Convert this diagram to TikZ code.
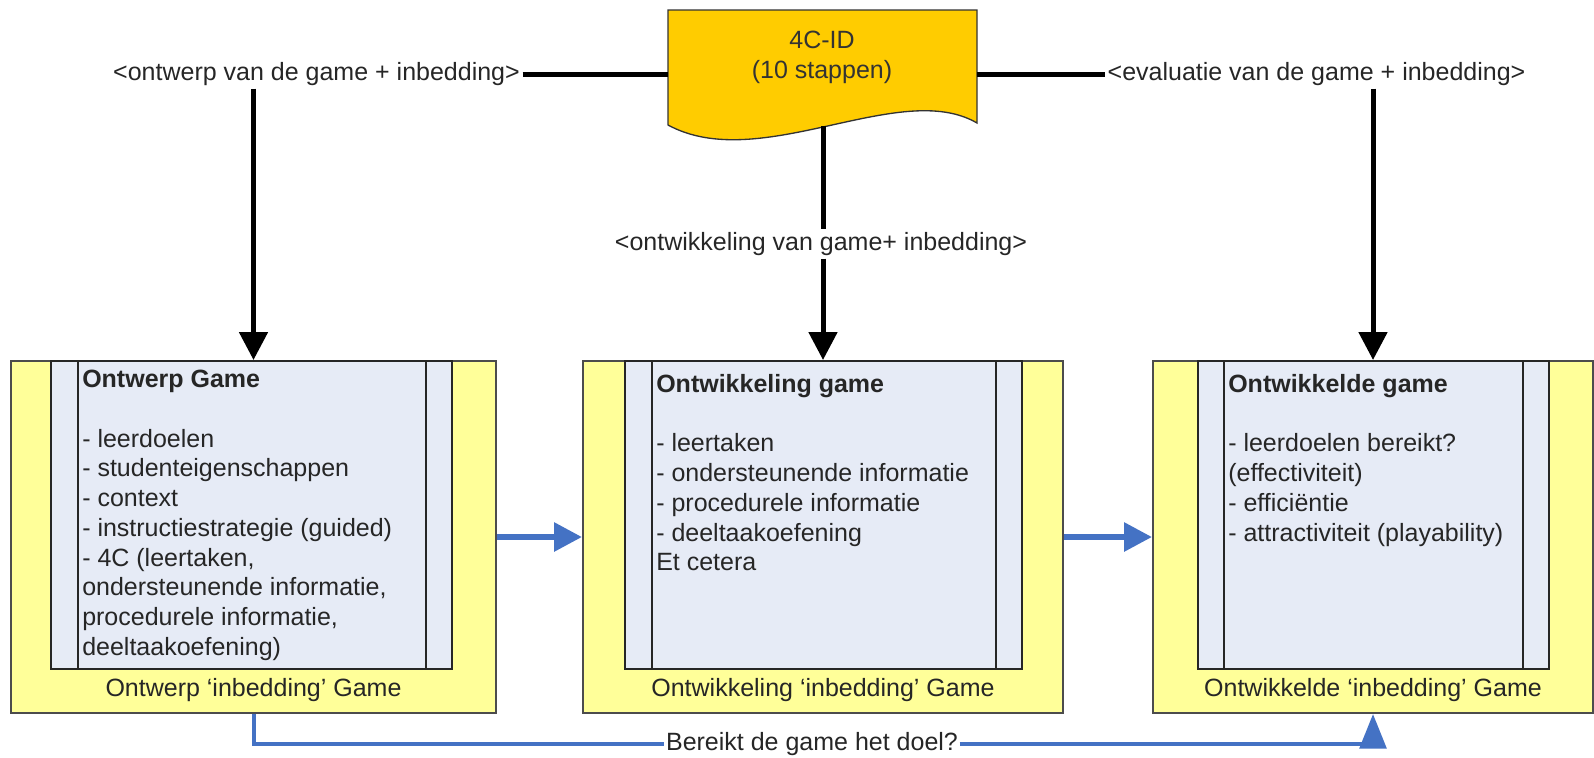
\documentclass[tikz,border=0pt]{standalone}
\usepackage{fontspec}
\setmainfont{Liberation Sans}
\usetikzlibrary{arrows.meta}
\definecolor{bedyellow}{RGB}{255,255,153}
\definecolor{gameblue}{RGB}{230,235,246}
\definecolor{docgold}{RGB}{255,204,0}
\definecolor{flowblue}{RGB}{68,114,196}
\tikzset{
  outerbox/.style={draw=black!70, fill=bedyellow, line width=1.5pt, inner sep=0pt},
  innerbox/.style={draw=black!85, fill=gameblue, line width=1.5pt, inner sep=0pt},
  txt/.style={font=\fontsize{18.75pt}{22.3pt}\selectfont, text=black!85, inner sep=0.75pt},
  blk/.style={line width=3.75pt},
  blkarrow/.style={blk, -{Triangle[width=21pt,length=21pt]}},
  bluearrow/.style={draw=flowblue, line width=4.5pt, -{Triangle[width=21pt,length=21pt]}},
  flowline/.style={draw=flowblue, line width=3pt},
}
\begin{document}
\begin{tikzpicture}[x=0.75pt,y=0.75pt,yscale=-1,xscale=1]
\useasboundingbox (0,0) rectangle (1594,757);

%Shape: Outer boxes (inbedding)
\node [outerbox, minimum width=363.75pt, minimum height=264pt] (ob1) at (253.5,537) {};
\node [outerbox, minimum width=360pt, minimum height=264pt] (ob2) at (823,537) {};
\node [outerbox, minimum width=330pt, minimum height=264pt] (ob3) at (1373,537) {};

%Shape: Inner boxes (game)
\node [innerbox, minimum width=300.75pt, minimum height=231pt] (ib1) at (251.5,515) {};
\node [innerbox, minimum width=297.75pt, minimum height=231pt] (ib2) at (823.5,515) {};
\node [innerbox, minimum width=263.25pt, minimum height=231pt] (ib3) at (1373.5,515) {};
\draw [black!85, line width=1.5pt] (78,361) -- (78,669) (426,361) -- (426,669);
\draw [black!85, line width=1.5pt] (652,361) -- (652,669) (996,361) -- (996,669);
\draw [black!85, line width=1.5pt] (1224,361) -- (1224,669) (1523,361) -- (1523,669);

% Text Node
\node [txt, anchor=north west, align=left] (t1) at (81,369) {\textbf{Ontwerp Game}\\[22.3pt]
- leerdoelen\\- studenteigenschappen\\- context\\- instructiestrategie (guided)\\- 4C (leertaken,\\ondersteunende informatie,\\procedurele informatie,\\deeltaakoefening)};
% Text Node
\node [txt, anchor=north west, align=left] (t2) at (655,373) {\textbf{Ontwikkeling game}\\[22.3pt]
- leertaken\\- ondersteunende informatie\\- procedurele informatie\\- deeltaakoefening\\Et cetera};
% Text Node
\node [txt, anchor=north west, align=left] (t3) at (1227,373) {\textbf{Ontwikkelde game}\\[22.3pt]
- leerdoelen bereikt?\\(effectiviteit)\\- effici\"entie\\- attractiviteit (playability)};

% Text Node
\node [txt] (bed1) at (253.5,690) {Ontwerp `inbedding' Game};
\node [txt] (bed2) at (823,690) {Ontwikkeling `inbedding' Game};
\node [txt] (bed3) at (1373,690) {Ontwikkelde `inbedding' Game};

%Shape: Document 4C-ID
\fill [docgold] (668,10) -- (977,10) -- (977,123) .. controls (900,78) and (760,175) .. (668,125) -- cycle;
\draw [black!80, line width=1pt] (668,10) -- (977,10) -- (977,123) .. controls (900,78) and (760,175) .. (668,125) -- cycle;
\node [txt, align=center, text=black!80] (doc) at (822,57.5) {4C-ID\\(10 stappen)};
\coordinate (docw) at (668,74);
\coordinate (doce) at (977,74);
\coordinate (docs) at (823,126);

% Text Node
\node [txt, inner sep=2pt] (ontwerp) at (316.5,74) {<ontwerp van de game + inbedding>};
\node [txt, inner sep=2pt] (evaluatie) at (1316.5,74) {<evaluatie van de game + inbedding>};
\node [txt, inner sep=2pt] (ontwikkeling) at (821,244) {<ontwikkeling van game+ inbedding>};

%Straight Lines
\draw [blk] (ontwerp.east) -- (docw);
\draw [blk] (doce) -- (evaluatie.west);
\draw [blkarrow] (ob1.north |- ontwerp.south) -- (ob1.north);
\draw [blkarrow] (ob3.north |- evaluatie.south) -- (ob3.north);
\draw [blk] (docs) -- (docs |- ontwikkeling.north);
\draw [blkarrow] (ob2.north |- ontwikkeling.south) -- (ob2.north);

%Straight Lines (blue)
\draw [bluearrow] (ob1.east) -- (ob2.west);
\draw [bluearrow] (ob2.east) -- (ob3.west);

% Text Node
\node [txt, inner sep=1pt] (doel) at (812,744) {Bereikt de game het doel?};
\draw [flowline] (ob1.south) |- (doel.west);
\draw [flowline, -{Triangle[width=20pt,length=26pt]}] (doel.east) -| (ob3.south);

\end{tikzpicture}
\end{document}
